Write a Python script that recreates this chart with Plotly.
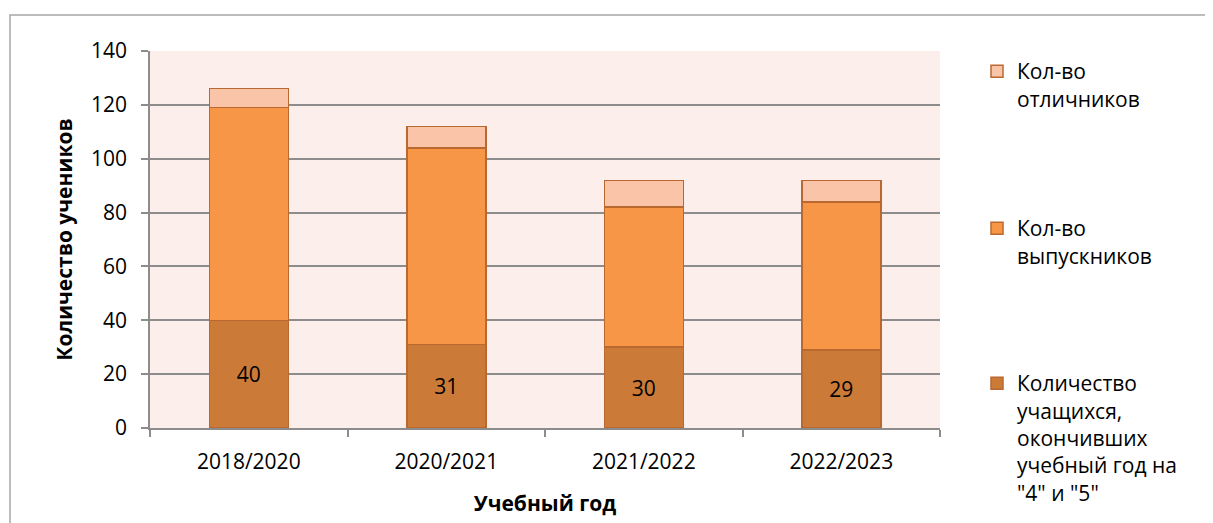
import plotly.graph_objects as go

years = ["2018/2020", "2020/2021", "2021/2022", "2022/2023"]
good_students = [40, 31, 30, 29]
graduates = [79, 73, 52, 55]
excellent = [7, 8, 10, 8]

name_good = "Количество<br>учащихся,<br>окончивших<br>учебный год на<br>\"4\" и \"5\""
name_grad = "Кол-во<br>выпускников"
name_exc = "Кол-во<br>отличников"

FONT = "Open Sans"
edge = "#B9692F"
FS = 21

fig = go.Figure()
fig.add_trace(go.Bar(
    x=years, y=good_students, name=name_good, legend="legend3",
    marker=dict(color="#CC7A38", line=dict(color=edge, width=1.5)),
    text=[str(v) for v in good_students], textposition="inside",
    insidetextanchor="middle", textangle=0,
    textfont=dict(family=FONT, size=FS, color="black"),
))
fig.add_trace(go.Bar(
    x=years, y=graduates, name=name_grad, legend="legend2",
    marker=dict(color="#F79646", line=dict(color=edge, width=1.5)),
))
fig.add_trace(go.Bar(
    x=years, y=excellent, name=name_exc, legend="legend",
    marker=dict(color="#FAC4A8", line=dict(color=edge, width=1.5)),
))

# page body adds an 8px offset; compensate
OFF = 8
W, H = 1213, 523
plot_l, plot_r, plot_t, plot_b = 150, 940, 51, 428  # screen px
pw, ph = plot_r - plot_l, plot_b - plot_t
ml = plot_l - OFF
mt = plot_t - OFF
mr = W - ml - pw
mb = H - mt - ph

def px(x):
    return (x - plot_l) / pw

def py(y):
    return (plot_b - y) / ph

legfont = dict(family=FONT, size=FS, color="black")
LX = 977
fig.update_layout(
    width=W, height=H,
    margin=dict(l=ml, r=mr, t=mt, b=mb, autoexpand=False),
    barmode="stack", bargap=0.6,
    showlegend=True,
    paper_bgcolor="white", plot_bgcolor="#FCEEEA",
    font=dict(family=FONT, size=FS, color="black"),
    legend=dict(x=px(LX), y=py(51), xanchor="left", yanchor="top",
                font=legfont, valign="top", bgcolor="rgba(0,0,0,0)"),
    legend2=dict(x=px(LX), y=py(208), xanchor="left", yanchor="top",
                 font=legfont, valign="top", bgcolor="rgba(0,0,0,0)"),
    legend3=dict(x=px(LX), y=py(363), xanchor="left", yanchor="top",
                 font=legfont, valign="top", bgcolor="rgba(0,0,0,0)"),
    xaxis=dict(
        title=dict(text="<b>Учебный год</b>", font=dict(family=FONT, size=FS), standoff=22),
        automargin=False,
        showline=True, linecolor="#8C8C8C", linewidth=1.5,
        ticks="outside", ticklen=7, tickcolor="#8C8C8C", tickwidth=1.5,
        ticklabelstandoff=14,
        tickson="boundaries", tickfont=dict(family=FONT, size=FS),
        showgrid=False,
    ),
    yaxis=dict(
        title=dict(text="<b>Количество учеников</b>", font=dict(family=FONT, size=FS), standoff=13),
        automargin=False,
        range=[0, 140], dtick=20,
        showline=True, linecolor="#8C8C8C", linewidth=1.5,
        ticks="outside", ticklen=7, tickcolor="#8C8C8C", tickwidth=1.5,
        ticklabelstandoff=10,
        showgrid=True, gridcolor="#8C8C8C", gridwidth=1.5,
        tickfont=dict(family=FONT, size=FS), zeroline=False,
    ),
    shapes=[dict(type="rect", xref="paper", yref="paper",
                 x0=px(10), x1=px(1240), y0=py(560), y1=py(15),
                 line=dict(color="#A6A6A6", width=1.5), layer="below")],
)

fig.write_html("out.html")
